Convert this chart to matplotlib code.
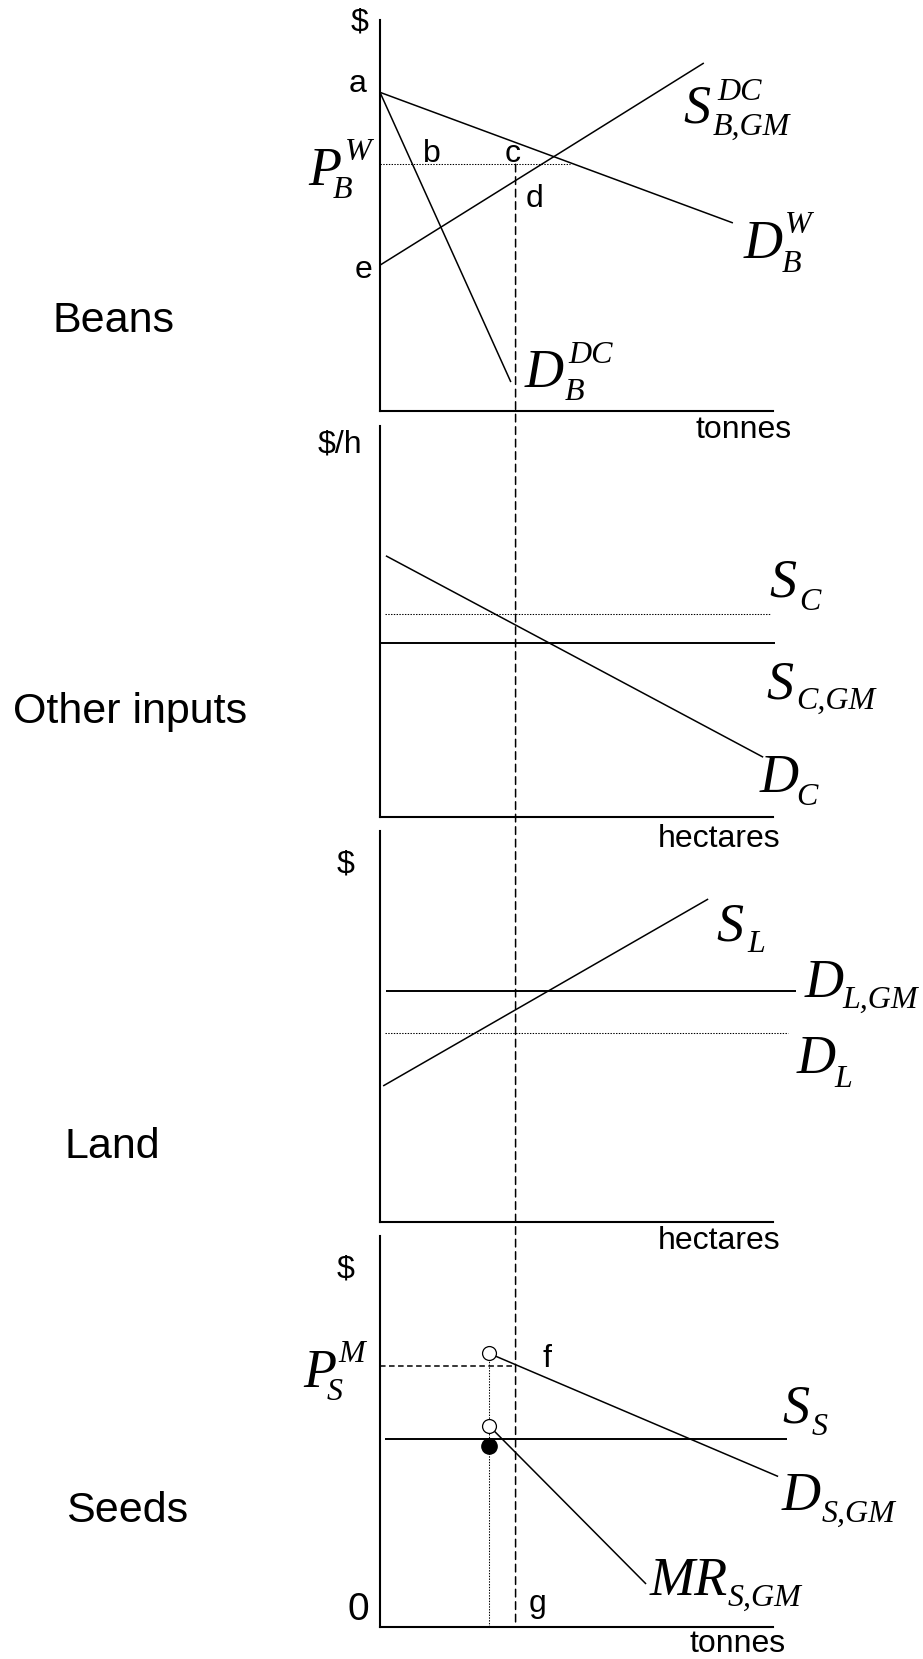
import matplotlib
matplotlib.use("Agg")
import matplotlib.pyplot as plt
from matplotlib.patches import ConnectionPatch

W, H, DPI = 923, 1659, 100

plt.rcParams['font.family'] = ['Liberation Sans', 'DejaVu Sans']
plt.rcParams['lines.scale_dashes'] = False

SERIF = ['Liberation Serif', 'DejaVu Serif']
MAIN_FS, SCRIPT_FS = 39, 23      # curve-name letter and its sub/superscripts
SMALL_FS, PANEL_FS = 23, 31      # point letters / axis units, panel names

# ---------------------------------------------------------------- data
# every panel uses a quantity axis 0..10 and a price axis 0..10
Q_STAR = 3.45                     # GM bean output carried down through all markets

# Beans
beans_dw_q, beans_dw_p = [0.0, 8.98], [8.15, 4.81]        # world demand
beans_ddc_q, beans_ddc_p = [0.0, 3.33], [8.15, 0.74]      # domestic demand
beans_s_q, beans_s_p = [0.0, 8.24], [3.73, 8.90]          # GM domestic supply
beans_pw = 6.31                                           # world price
beans_pw_q = [0.0, 4.83]

# Other inputs
inputs_dc_q, inputs_dc_p = [0.15, 9.75], [6.68, 1.53]
inputs_sc, inputs_sc_q = 5.20, [0.13, 9.95]
inputs_scgm, inputs_scgm_q = 4.46, [0.0, 10.05]

# Land
land_sl_q, land_sl_p = [0.08, 8.35], [3.48, 8.26]
land_dlgm, land_dlgm_q = 5.91, [0.15, 10.59]
land_dl, land_dl_q = 4.83, [0.13, 10.38]

# Seeds
seeds_qm = 2.77                                            # monopoly seed quantity
seeds_d_q, seeds_d_p = [2.77, 10.13], [7.00, 3.85]        # GM seed demand
seeds_mr_q, seeds_mr_p = [2.77, 6.77], [5.15, 1.10]       # marginal revenue
seeds_mc_dot = 4.62
seeds_ss, seeds_ss_q = 4.82, [0.13, 10.36]
seeds_pm = 6.67                                            # monopoly seed price

# ---------------------------------------------------------------- layout
fig = plt.figure(figsize=(W / DPI, H / DPI), dpi=DPI)
fig.patch.set_facecolor('white')

panel_bottoms = [411, 817, 1222, 1627]
AX_L, AX_R, AX_H = 380, 773, 391
axes = []
for b in panel_bottoms:
    ax = fig.add_axes([AX_L / W, (H - b) / H, (AX_R - AX_L) / W, AX_H / H])
    ax.set_xlim(0, 10)
    ax.set_ylim(0, 10)
    ax.spines['top'].set_visible(False)
    ax.spines['right'].set_visible(False)
    ax.spines['left'].set_linewidth(1.5)
    ax.spines['bottom'].set_linewidth(1.5)
    ax.set_xticks([])
    ax.set_yticks([])
    ax.patch.set_visible(False)
    axes.append(ax)
ax1, ax2, ax3, ax4 = axes

LW = 1.1
solid = dict(color='black', lw=LW, clip_on=False, solid_capstyle='butt')
hsolid = dict(color='black', lw=1.4, clip_on=False, solid_capstyle='butt')
dotted = dict(color='black', lw=0.75, ls=(0, (1, 1)), clip_on=False)
dashed = dict(color='black', lw=1.1, ls=(0, (4, 2.5)), clip_on=False)


def curve_label(ax, x, y, main, sub=None, sup=None, sub_at=(0, 0), sup_at=(0, 0)):
    kw = dict(family=SERIF, style='italic', ha='left', va='baseline')
    ax.text(x, y, main, fontsize=MAIN_FS, clip_on=False, **kw)
    for txt, off in ((sub, sub_at), (sup, sup_at)):
        if txt:
            ax.annotate(txt, xy=(x, y), xytext=off, textcoords='offset pixels',
                        fontsize=SCRIPT_FS, annotation_clip=False, **kw)


def small(ax, x, y, s, size=SMALL_FS):
    ax.text(x, y, s, fontsize=size, ha='center', va='baseline', clip_on=False)


# ---------------------------------------------------------------- beans
ax1.plot(beans_dw_q, beans_dw_p, **solid)
ax1.plot(beans_ddc_q, beans_ddc_p, **solid)
ax1.plot(beans_s_q, beans_s_p, **solid)
ax1.plot(beans_pw_q, [beans_pw, beans_pw], **dotted)

small(ax1, -0.53, 9.72, '$')
small(ax1, -0.56, 8.16, 'a')
small(ax1, 1.32, 6.37, 'b')
small(ax1, 3.38, 6.37, 'c')
small(ax1, 3.94, 5.22, 'd')
small(ax1, -0.41, 3.40, 'e')
small(ax1, 9.24, -0.69, 'tonnes')
small(ax1, -6.77, 2.02, 'Beans', PANEL_FS)

curve_label(ax1, -1.83, 5.78, 'P', sub='B', sup='W', sub_at=(25, -13), sup_at=(37, 25))
curve_label(ax1, 7.71, 7.37, 'S', sub='B,GM', sup='DC', sub_at=(30, -12), sup_at=(34, 23))
curve_label(ax1, 9.24, 3.91, 'D', sub='B', sup='W', sub_at=(39, -14), sup_at=(42, 25))
curve_label(ax1, 3.69, 0.61, 'D', sub='B', sup='DC', sub_at=(40, -13), sup_at=(43, 24))

# ---------------------------------------------------------------- other inputs
ax2.plot(inputs_dc_q, inputs_dc_p, **solid)
ax2.plot(inputs_sc_q, [inputs_sc, inputs_sc], **dotted)
ax2.plot(inputs_scgm_q, [inputs_scgm, inputs_scgm], **hsolid)

small(ax2, -1.02, 9.31, '$/h')
small(ax2, 8.63, -0.77, 'hectares')
small(ax2, -6.36, 2.40, 'Other inputs', PANEL_FS)

curve_label(ax2, 9.90, 5.63, 'S', sub='C', sub_at=(30, -13))
curve_label(ax2, 9.82, 3.04, 'S', sub='C,GM', sub_at=(30, -11))
curve_label(ax2, 9.67, 0.64, 'D', sub='C', sub_at=(36, -13))

# ---------------------------------------------------------------- land
ax3.plot(land_sl_q, land_sl_p, **solid)
ax3.plot(land_dlgm_q, [land_dlgm, land_dlgm], **hsolid)
ax3.plot(land_dl_q, [land_dl, land_dl], **dotted)

small(ax3, -0.87, 8.95, '$')
small(ax3, 8.63, -0.69, 'hectares')
small(ax3, -6.82, 1.64, 'Land', PANEL_FS)

curve_label(ax3, 8.55, 7.21, 'S', sub='L', sub_at=(31, -12))
curve_label(ax3, 10.81, 5.75, 'D', sub='L,GM', sub_at=(38, -11))
curve_label(ax3, 10.59, 3.81, 'D', sub='L', sub_at=(38, -14))

# ---------------------------------------------------------------- seeds
ax4.plot([seeds_qm, seeds_qm], [seeds_d_p[0], 0], **dotted)
ax4.plot([0, Q_STAR], [seeds_pm, seeds_pm], **dashed)
ax4.plot(seeds_ss_q, [seeds_ss, seeds_ss], **hsolid)
ax4.plot(seeds_d_q, seeds_d_p, **solid)
ax4.plot(seeds_mr_q, seeds_mr_p, **solid)
ax4.plot([seeds_d_q[0], seeds_mr_q[0]], [seeds_d_p[0], seeds_mr_p[0]], ls='none',
         marker='o', ms=10, mfc='white', mec='black', mew=0.9, zorder=5, clip_on=False)
ax4.plot([seeds_qm], [seeds_mc_dot], ls='none', marker='o', ms=11, mfc='black',
         mec='black', zorder=5, clip_on=False)

small(ax4, -0.87, 8.95, '$')
small(ax4, -0.56, 0.18, '0', 28)
small(ax4, 4.25, 6.65, 'f')
small(ax4, 4.02, 0.38, 'g')
small(ax4, 9.11, -0.64, 'tonnes')
small(ax4, -6.44, 2.69, 'Seeds', PANEL_FS)

curve_label(ax4, -1.96, 6.14, 'P', sub='S', sup='M', sub_at=(24, -13), sup_at=(35, 25))
curve_label(ax4, 10.23, 5.22, 'S', sub='S', sub_at=(30, -12))
curve_label(ax4, 10.23, 2.99, 'D', sub='S,GM', sub_at=(40, -12))
curve_label(ax4, 6.87, 0.82, 'MR', sub='S,GM', sub_at=(78, -11))

# ---------------------------------------------------------------- common output line
link = ConnectionPatch(xyA=(Q_STAR, beans_pw), coordsA=ax1.transData,
                       xyB=(Q_STAR, 0), coordsB=ax4.transData,
                       color='black', lw=1.1, ls=(0, (5.5, 3.5)))
fig.add_artist(link)

fig.savefig('out.png', dpi=DPI)
